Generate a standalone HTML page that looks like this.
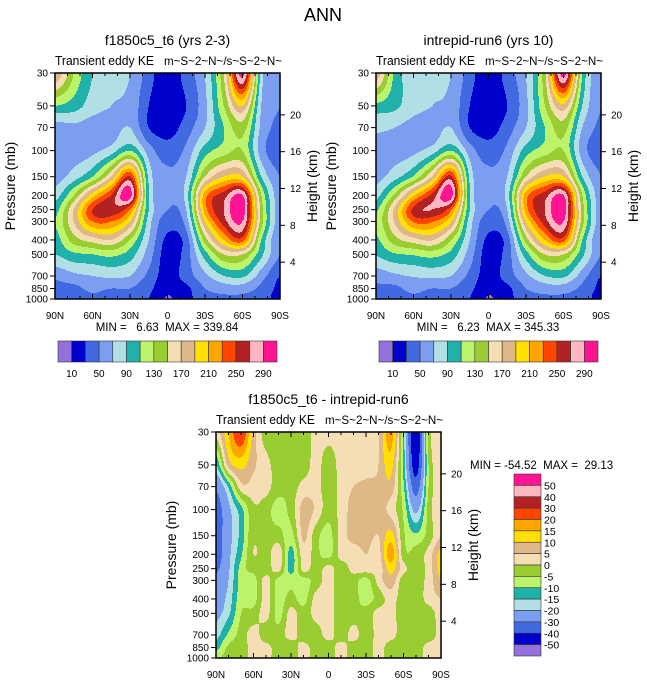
<!DOCTYPE html>
<html><head><meta charset="utf-8"><style>
body{margin:0;background:#fff;}
svg{display:block;font-family:"Liberation Sans",sans-serif;}
svg text{white-space:pre;}
</style></head><body>
<svg id="chart" width="647" height="683" viewBox="0 0 647 683">
<rect width="647" height="683" fill="#fff"/>
<text x="323" y="21" font-size="18" text-anchor="middle">ANN</text>
</svg>
<script>
// ---------- data ----------
const pressureLevels = [30,50,70,100,150,200,250,300,400,500,700,850,1000];
const latsTop = [90,75,60,45,30,15,0,-15,-30,-45,-60,-75,-90];
const latsDiff = [90,80,70,60,50,40,30,20,10,0,-10,-20,-30,-40,-50,-60,-70,-80,-90];
const keLevels = [10,30,50,70,90,110,130,150,170,190,210,230,250,270,290];
const keLabels = ['10','50','90','130','170','210','250','290'];
const diffLevels = [-50,-40,-30,-20,-15,-10,-5,0,5,10,15,20,30,40,50];
const diffLabels = ['-50','-40','-30','-20','-15','-10','-5','0','5','10','15','20','30','40','50'];
const xTickLabels = ['90N','60N','30N','0','30S','60S','90S'];
const heightTicks = [4,8,12,16,20];
const keCase1 = [
[190,130,90,75,70,40,15,40,70,150,300,80,50],
[110,100,80,70,65,30,12,30,65,130,190,70,50],
[60,65,60,60,70,30,20,40,70,110,140,65,45],
[55,60,65,80,110,60,40,55,100,120,130,60,35],
[60,80,110,170,250,85,55,70,150,190,190,90,50],
[80,130,200,250,300,90,55,80,220,260,290,130,55],
[100,170,250,265,230,90,50,70,220,270,300,140,55],
[110,170,230,230,190,80,40,60,190,260,290,140,55],
[100,140,160,170,130,70,25,40,140,210,240,110,50],
[90,105,110,115,100,60,20,40,100,150,150,95,50],
[55,65,70,75,70,45,20,40,65,90,95,60,30],
[45,45,55,50,50,35,15,25,50,60,60,45,25],
[40,40,45,40,40,30,8,25,40,45,45,40,20]];
const keCase2 = [
[185,105,80,75,70,40,15,40,70,145,300,110,50],
[105,95,78,70,65,30,12,30,65,130,185,90,50],
[75,70,62,60,70,30,20,40,70,110,140,70,45],
[60,62,65,80,110,60,40,55,100,120,130,60,38],
[62,82,112,172,255,85,55,70,150,190,190,90,50],
[82,135,205,255,300,90,55,80,220,260,290,130,55],
[105,175,255,270,235,90,50,70,220,270,300,140,55],
[115,172,232,232,192,80,40,60,190,260,290,140,55],
[105,142,162,172,132,70,25,40,140,210,240,110,50],
[92,107,112,117,102,60,20,40,100,150,150,95,50],
[58,66,72,76,70,45,20,40,65,90,95,60,30],
[47,46,56,50,50,35,15,25,50,60,60,45,25],
[42,41,46,40,40,30,8,25,40,45,45,40,20]];
const keDiff = [
[2,15,25,8,-3,-3,-3,-3,2,2,2,2,2,5,18,-12,-50,-3,0],
[-15,7,12,6,2,-3,-3,-3,2,-3,2,2,3,5,12,-12,-45,-5,2],
[-28,-14,3,3,2,-3,-3,2,2,-3,2,5,6,6,8,-9,-35,-5,3],
[-36,-22,-12,-1,-3,-7,-3,7,4,-3,2,7,7,7,3,-6,-22,-3,5],
[-36,-23,-13,-1,-3,-3,-7,6,-3,-7,2,7,7,5,12,-4,-9,-3,5],
[-36,-22,-11,0,-3,4,-12,3,-3,-7,2,2,5,3,18,-3,-3,2,12],
[-32,-21,-8,-3,-3,2,-12,2,-3,2,-3,2,3,2,12,2,-3,2,12],
[-28,-20,-8,-7,2,-7,-7,-7,-3,2,-3,-3,-7,2,8,-3,-3,2,10],
[-24,-18,-7,-7,2,-7,-3,-7,2,2,-3,-3,-7,-3,2,-3,-3,2,5],
[-22,-16,-5,-3,2,-7,2,-3,2,2,-3,-3,-3,2,2,-3,-3,-3,3],
[-17,-9,-3,2,-3,-3,2,-3,-3,2,-3,2,-3,2,2,-3,-3,-3,2],
[-12,-4,-3,2,2,-3,-3,2,-3,-3,2,-3,-3,2,-3,-3,-3,2,2],
[-6,-3,-3,2,2,-3,-3,2,-3,-3,2,-3,-3,2,-3,-3,-3,2,2]];
const keColors = ['#9370db','#0000cd','#4169e1','#7b9ef0','#b0e0e6','#20b2aa','#bdf26b','#9acd32','#f5deb3','#deb887','#ffe000','#ffa500','#ff4500','#b22222','#ffb6c1','#ff1493'];
const diffColors = ['#9370db','#0000cd','#4169e1','#7b9ef0','#b0e0e6','#20b2aa','#bdf26b','#9acd32','#f5deb3','#deb887','#ffe000','#ffa500','#ff4500','#b22222','#ffb6c1','#ff1493'];

// ---------- drawing ----------
const NS='http://www.w3.org/2000/svg';
const svg=document.getElementById('chart');
function mk(tag,attrs,parent){const e=document.createElementNS(NS,tag);for(const k in attrs)e.setAttribute(k,attrs[k]);(parent||svg).appendChild(e);return e;}
function txt(x,y,s,size,anchor,parent,extra){const t=mk('text',Object.assign({x:x,y:y,'font-size':size,'text-anchor':anchor||'middle'},extra||{}),parent);t.textContent=s;return t;}
function levelIndex(v,levels){let i=0;while(i<levels.length&&v>=levels[i])i++;return i;}
function cr(p0,p1,p2,p3,t){return 0.5*((2*p1)+(-p0+p2)*t+(2*p0-5*p1+4*p2-p3)*t*t+(-p0+3*p1-3*p2+p3)*t*t*t);}

function panel(name,x0,y0,w,h,lats,grid,levels,colors,titleStr){
  const g=mk('g',{});
  
  
  const lp0=Math.log(30),lp1=Math.log(1000);
  const yOfP=p=>y0+(Math.log(p)-lp0)/(lp1-lp0)*h;
  const xOfLat=l=>x0+(90-l)/180*w;
  const lpLev=pressureLevels.map(Math.log);
  const nr=grid.length,nc=lats.length;
  const G=(i,j)=>grid[Math.max(0,Math.min(nr-1,i))][Math.max(0,Math.min(nc-1,j))];
  function sample(lat,lp){
    let j=0;while(j<nc-2&&lat<lats[j+1])j++;
    let fx=(lats[j]-lat)/(lats[j]-lats[j+1]);fx=Math.max(0,Math.min(1,fx));
    let i=0;while(i<lpLev.length-2&&lp>lpLev[i+1])i++;
    let fy=(lp-lpLev[i])/(lpLev[i+1]-lpLev[i]);fy=Math.max(0,Math.min(1,fy));
    const r=[];
    for(let di=-1;di<=2;di++)r.push(cr(G(i+di,j-1),G(i+di,j),G(i+di,j+1),G(i+di,j+2),fx));
    return cr(r[0],r[1],r[2],r[3],fy);
  }
  const cells=mk('g',{},g);
  
  
  for(let py=0;py<h;py++){
    const lp=lp0+(py+0.5)/h*(lp1-lp0);
    let runStart=0,runC=-1;
    for(let px=0;px<=w;px++){
      let c=-2;
      if(px<w){const lat=90-(px+0.5)/w*180;c=levelIndex(sample(lat,lp),levels);}
      if(c!==runC){
        if(runC>=0){const r=mk('rect',{x:x0+runStart,y:y0+py,width:px-runStart,height:1.05,fill:colors[runC]},cells);
          
          }
        runStart=px;runC=c;
      }
    }
  }
  mk('rect',{x:x0,y:y0,width:w,height:h,fill:'none',stroke:'#000','stroke-width':1.5},g);
  for(let l=90;l>=-90;l-=10){
    const x=xOfLat(l);const major=(l%30===0);const L=major?5:3;
    mk('line',{x1:x,x2:x,y1:y0+h,y2:y0+h-L,stroke:'#000'},g);
    mk('line',{x1:x,x2:x,y1:y0,y2:y0+L,stroke:'#000'},g);
  }
  xTickLabels.forEach((s,k)=>{const t=txt(xOfLat(90-30*k),y0+h+20,s,10,'middle',g);
    });
  pressureLevels.forEach(p=>{const y=yOfP(p);
    mk('line',{x1:x0,x2:x0-5,y1:y,y2:y,stroke:'#000'},g);
    const t=txt(x0-7,y+3.5,String(p),10,'end',g);
    });
  heightTicks.forEach(z=>{const y=yOfP(1000*Math.exp(-z/7));
    mk('line',{x1:x0+w,x2:x0+w+5,y1:y,y2:y,stroke:'#000'},g);
    const t=txt(x0+w+10,y+3.5,String(z),10,'start',g);
    });
  const yt=txt(0,0,'Pressure (mb)',14,'middle',g,{transform:`translate(${x0-40},${y0+h/2}) rotate(-90)`});
  
  const ht=txt(0,0,'Height (km)',14,'middle',g,{transform:`translate(${x0+w+37},${y0+h/2}) rotate(-90)`});
  
  const tt=txt(x0+w/2,y0-28,titleStr,14,'middle',g);
  
  const l1=txt(x0,y0-8,'Transient eddy KE',13,'start',g,{textLength:99,lengthAdjust:'spacingAndGlyphs'});
  
  const l2=txt(x0+w+2,y0-8,'m~S~2~N~/s~S~2~N~',12,'end',g,{textLength:118,lengthAdjust:'spacingAndGlyphs'});
  
  return {g};
}

function hbar(name,x0,y0,w,h){
  const g=mk('g',{});
  const n=keColors.length,bw=w/n;
  keColors.forEach((c,i)=>{const r=mk('rect',{x:x0+i*bw,y:y0,width:bw,height:h,fill:c,stroke:'#333','stroke-width':0.6},g);
    });
  keLabels.forEach((s,k)=>{const t=txt(x0+(1+2*k)*bw,y0+h+15,s,10,'middle',g);
    });
}

panel('panel-case1',55,73,225,226,latsTop,keCase1,keLevels,keColors,'f1850c5_t6 (yrs 2-3)');
let m1=txt(167,331,'MIN =   6.63  MAX = 339.84',11.5,'middle');

hbar('colorbar-case1',58,341,219,21);

panel('panel-case2',376,73,225,226,latsTop,keCase2,keLevels,keColors,'intrepid-run6 (yrs 10)');
let m2=txt(488,331,'MIN =   6.23  MAX = 345.33',11.5,'middle');

hbar('colorbar-case2',379,341,219,21);

panel('panel-diff',216,432,225,226,latsDiff,keDiff,diffLevels,diffColors,'f1850c5_t6 - intrepid-run6');
let m3=txt(470,469,'MIN = -54.52  MAX =  29.13',11.5,'start');


(function(){
  const g=mk('g',{});
  const x0=514,y0=474,w=27,H=182,n=diffColors.length,bh=H/n;
  for(let i=0;i<n;i++){const c=diffColors[n-1-i];
    const r=mk('rect',{x:x0,y:y0+i*bh,width:w,height:bh,fill:c,stroke:'#333','stroke-width':0.6},g);
    }
  for(let k=0;k<diffLabels.length;k++){
    const lbl=diffLabels[diffLabels.length-1-k];
    const t=txt(x0+w+3,y0+(k+1)*bh+4,lbl,10.5,'start',g);
    }
})();
</script>
</body></html>
